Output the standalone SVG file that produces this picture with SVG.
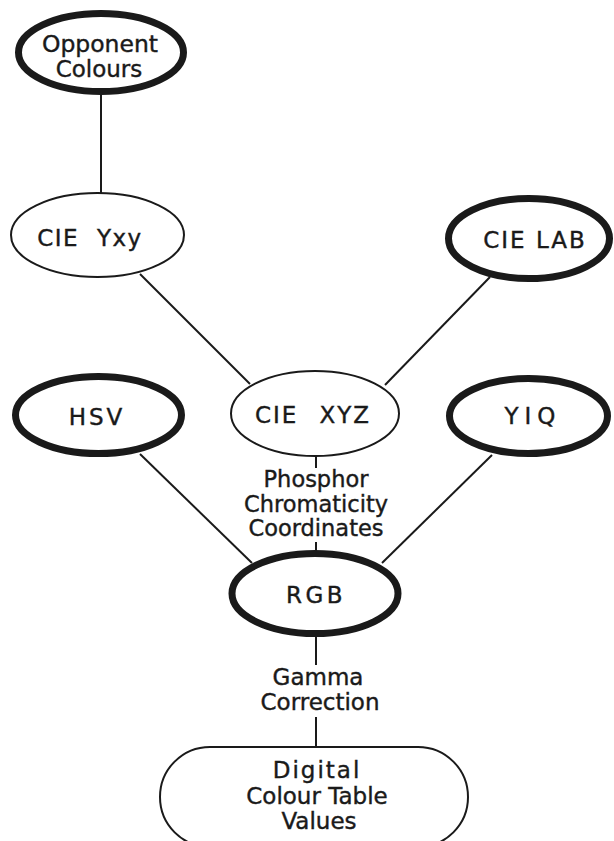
<svg xmlns="http://www.w3.org/2000/svg" width="614" height="841" viewBox="0 0 614 841">
<style>
.bg{fill:#ffffff}
.edge{stroke:#1a1a1a;stroke-width:2;fill:none}
.thin{fill:#ffffff;stroke:#1a1a1a;stroke-width:2}
.thick{fill:#ffffff;stroke:#1a1a1a;stroke-width:7}
text{font-family:"DejaVu Sans","Liberation Sans",sans-serif;font-size:23px;fill:#1a1a1a;stroke:#1a1a1a;stroke-width:0.4;text-anchor:middle}
.lbl{font-size:22.5px}
</style>
<rect class="bg" x="0" y="0" width="614" height="841"/>
<g id="connectors">
<line class="edge" x1="101" y1="90" x2="101" y2="195"/>
<line class="edge" x1="140" y1="274" x2="250" y2="384"/>
<line class="edge" x1="490" y1="277" x2="385" y2="385"/>
<line class="edge" x1="316" y1="454" x2="316" y2="468"/>
<line class="edge" x1="316" y1="542" x2="316" y2="556"/>
<line class="edge" x1="140" y1="454" x2="252" y2="563"/>
<line class="edge" x1="492" y1="455" x2="382" y2="563"/>
<line class="edge" x1="316" y1="630" x2="316" y2="665"/>
<line class="edge" x1="316" y1="717" x2="316" y2="749"/>
<g id="label-phosphor">
<text class="lbl" x="316" y="487">Phosphor</text>
<text class="lbl" x="316" y="511.5">Chromaticity</text>
<text class="lbl" x="316" y="536">Coordinates</text>
</g>
<g id="label-gamma">
<text x="318" y="685">Gamma</text>
<text x="320" y="710">Correction</text>
</g>
</g>
<g id="opponent">
<ellipse class="thick" cx="101" cy="52.5" rx="82.5" ry="39"/>
<text x="100" y="52" textLength="116" lengthAdjust="spacingAndGlyphs">Opponent</text>
<text x="99" y="77">Colours</text>
</g>
<g id="cie-yxy">
<ellipse class="thin" cx="97.5" cy="235" rx="86.5" ry="42"/>
<text x="90" y="246" style="letter-spacing:1.5px;word-spacing:9px">CIE Yxy</text>
</g>
<g id="cie-lab">
<ellipse class="thick" cx="529" cy="238.5" rx="80.5" ry="40"/>
<text x="535" y="248" style="letter-spacing:2px">CIE LAB</text>
</g>
<g id="hsv">
<ellipse class="thick" cx="98.5" cy="415" rx="83" ry="38.5"/>
<text x="97" y="425" style="letter-spacing:3px">HSV</text>
</g>
<g id="cie-xyz">
<ellipse class="thin" cx="315" cy="413.5" rx="84" ry="42.5"/>
<text x="313" y="423" style="letter-spacing:2px;word-spacing:12px">CIE XYZ</text>
</g>
<g id="yiq">
<ellipse class="thick" cx="528.5" cy="416" rx="79" ry="37.5"/>
<text x="533" y="424" style="letter-spacing:6px">YIQ</text>
</g>
<g id="rgb">
<ellipse class="thick" cx="315" cy="593.5" rx="83" ry="40"/>
<text x="316" y="603" style="letter-spacing:3.5px">RGB</text>
</g>
<g id="digital-colour-table">
<rect class="thin" x="160" y="747" width="308" height="100" rx="50" ry="50"/>
<text x="317" y="778" style="letter-spacing:2px">Digital</text>
<text x="317" y="804">Colour Table</text>
<text x="319" y="829">Values</text>
</g>
</svg>
